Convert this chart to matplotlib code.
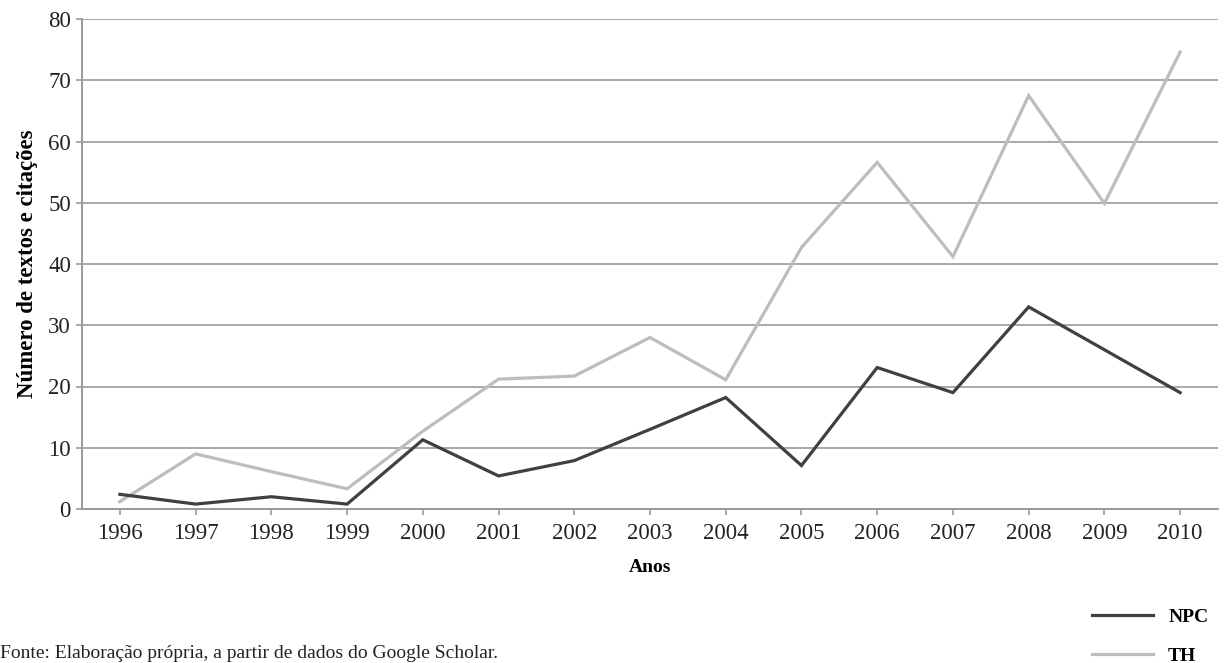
"""
Line chart: number of texts and citations per year (NPC vs TH), Google Scholar data.
"""

import matplotlib
matplotlib.use('Agg')
import matplotlib.pyplot as plt
from matplotlib.lines import Line2D
import numpy as np

# data
years = ['1996', '1997', '1998', '1999', '2000', '2001', '2002', '2003',
         '2004', '2005', '2006', '2007', '2008', '2009', '2010']
npc = [2.4, 0.8, 2.0, 0.8, 11.3, 5.4, 7.9, 13.0, 18.2, 7.1, 23.1, 19.0, 33.0, 26.0, 19.0]
th = [1.2, 9.0, 6.1, 3.3, 12.7, 21.2, 21.7, 28.0, 21.1, 42.7, 56.6, 41.2, 67.5, 49.9, 74.6]
y_ticks = [0, 10, 20, 30, 40, 50, 60, 70, 80]

plt.rcParams['font.family'] = ['Liberation Serif', 'DejaVu Serif']

fig = plt.figure(figsize=(12.26, 6.63), dpi=100, facecolor='white')
ax = fig.add_axes([82 / 1226, 1 - 509 / 663, (1218 - 82) / 1226, (509 - 19) / 663])

x = np.arange(len(years))
grid_color = '#9a9a9a'
npc_color = '#404040'
th_color = '#bdbdbd'

ax.plot(x, th, color=th_color, lw=2.3, solid_joinstyle='miter', zorder=3)
ax.plot(x, npc, color=npc_color, lw=2.3, solid_joinstyle='miter', zorder=4)

ax.set_xlim(-0.5, len(years) - 0.5)
ax.set_ylim(0, 80)
ax.set_yticks(y_ticks)
ax.set_xticks(x)
ax.set_xticklabels(years)
ax.tick_params(axis='both', labelsize=16.5, colors=grid_color, labelcolor='#222222',
               length=4, width=1.2, direction='out')
ax.tick_params(axis='x', pad=6)
ax.tick_params(axis='y', pad=4)

ax.yaxis.grid(True, color=grid_color, lw=1.2)
ax.set_axisbelow(True)
for side in ['top', 'right']:
    ax.spines[side].set_visible(False)
for side in ['left', 'bottom']:
    ax.spines[side].set_color(grid_color)
    ax.spines[side].set_linewidth(1.4)

ax.set_xlabel('Anos', fontsize=14, fontweight='bold', labelpad=11)
ax.set_ylabel('Número de textos e citações', fontsize=16.5, fontweight='bold', labelpad=7)

# legend drawn at the lower right, outside the axes
handles = [Line2D([], [], color=npc_color, lw=2.3),
           Line2D([], [], color=th_color, lw=2.3)]
fig.legend(handles, ['NPC', 'TH'], loc='lower right', bbox_to_anchor=(1218 / 1226, -0.017),
           frameon=False, borderpad=0, handlelength=3.1, handletextpad=0.8,
           labelspacing=1.1, prop={'size': 14, 'weight': 'bold'})

fig.text(0.0, 1 - 653 / 663, 'Fonte: Elaboração própria, a partir de dados do Google Scholar.',
         fontsize=14, ha='left', va='center', color='#222222')

fig.savefig('out.png', dpi=100, facecolor='white')
